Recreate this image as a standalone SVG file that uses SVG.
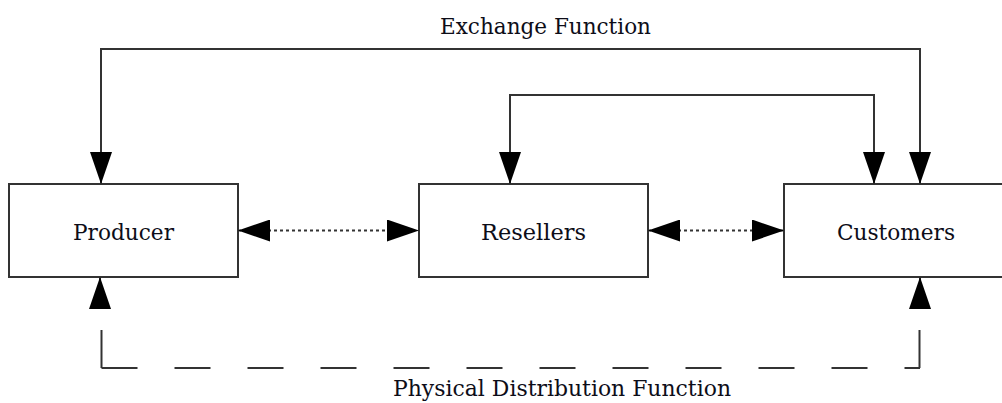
<svg xmlns="http://www.w3.org/2000/svg" width="1002" height="403" viewBox="0 0 1002 403">
<style>
.box{fill:#fff;stroke:#333;stroke-width:2}
.lbl{font-family:"DejaVu Serif","Liberation Serif",serif;font-size:23px;fill:#0d0d18;text-anchor:middle}
.solid{fill:none;stroke:#333;stroke-width:2}
.dot{fill:none;stroke:#333;stroke-width:2;stroke-dasharray:3 3}
.dash{fill:none;stroke:#333;stroke-width:2;stroke-dasharray:36 37}
</style>
<defs>
<marker id="ah" viewBox="0 0 32 22" refX="32" refY="11" markerWidth="32" markerHeight="22" markerUnits="userSpaceOnUse" orient="auto-start-reverse">
<path d="M0,0 L32,11 L0,22 Z" fill="#000"/>
</marker>
</defs>
<rect width="1002" height="403" fill="#fff"/>
<g id="producer">
<rect class="box" x="9" y="184" width="229" height="93"/>
<text class="lbl" x="123.5" y="240" textLength="101" lengthAdjust="spacingAndGlyphs">Producer</text>
</g>
<g id="resellers">
<rect class="box" x="419" y="184" width="229" height="93"/>
<text class="lbl" x="533.5" y="240" textLength="105" lengthAdjust="spacingAndGlyphs">Resellers</text>
</g>
<g id="customers">
<rect class="box" x="784" y="184" width="229" height="93"/>
<text class="lbl" x="896" y="240" textLength="118" lengthAdjust="spacingAndGlyphs">Customers</text>
</g>
<g id="connectors">
<path class="solid" d="M101,184 V49 H920 V184" marker-start="url(#ah)" marker-end="url(#ah)"/>
<path class="solid" d="M510,184 V95 H874 V184" marker-start="url(#ah)" marker-end="url(#ah)"/>
<path class="dot" d="M238,230.5 H419" marker-start="url(#ah)" marker-end="url(#ah)"/>
<path class="dot" d="M648,230.5 H784" marker-start="url(#ah)" marker-end="url(#ah)"/>
<path class="solid" d="M100,307 V277" marker-end="url(#ah)"/>
<path class="solid" d="M920,307 V277" marker-end="url(#ah)"/>
<path class="solid" d="M101.5,330 V368"/>
<path class="solid" d="M919.5,330 V368"/>
<path class="dash" d="M101.5,368 H920"/>
</g>
<g id="labels">
<text class="lbl" x="545.5" y="34" textLength="211" lengthAdjust="spacingAndGlyphs">Exchange Function</text>
<text class="lbl" x="562" y="396" textLength="338" lengthAdjust="spacingAndGlyphs">Physical Distribution Function</text>
</g>
</svg>
